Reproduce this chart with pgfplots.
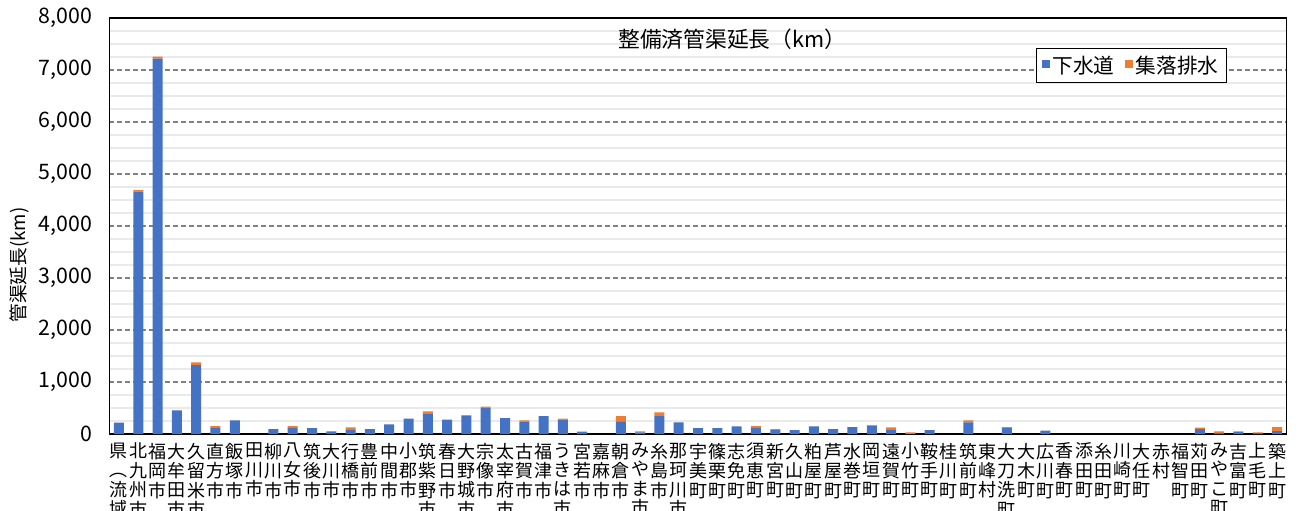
\documentclass[border=0pt]{standalone}
\usepackage{fontspec}
\setmainfont{Noto Sans CJK JP}
\usepackage{pgfplots}
\usepackage{pgfplotstable}
\pgfplotsset{compat=1.18}

\definecolor{sewer}{HTML}{4472C4}
\definecolor{rural}{HTML}{ED7D31}
\definecolor{majorgrid}{HTML}{7F7F7F}
\definecolor{minorgrid}{HTML}{EAEAEA}
\definecolor{baseline}{HTML}{8C8C8C}

% 整備済管渠延長 (km): 下水道 / 集落排水
\pgfplotstableread{
idx sewer rural
0 218 0
1 4660 30
2 7217 40
3 455 0
4 1327 51
5 128 26
6 263 0
7 0 0
8 96 0
9 128 26
10 115 0
11 51 0
12 90 38
13 96 0
14 186 0
15 295 0
16 385 51
17 276 0
18 359 0
19 506 20
20 308 0
21 231 32
22 346 0
23 276 19
24 45 0
25 0 0
26 244 102
27 32 19
28 346 71
29 224 0
30 115 0
31 115 0
32 147 0
33 128 26
34 77 19
35 77 0
36 147 0
37 96 0
38 135 0
39 167 0
40 90 38
41 5 25
42 77 0
43 0 0
44 224 39
45 0 0
46 115 20
47 0 0
48 64 0
49 0 0
50 0 0
51 0 0
52 0 0
53 0 0
54 0 0
55 0 0
56 93 29
57 19 32
58 45 6
59 8 24
60 58 77
}\lengthdata

\begin{document}
\begin{tikzpicture}
\begin{axis}[
  name=ax,
  scale only axis,
  width=883pt, height=312pt,
  ybar stacked,
  bar width=7.5pt,
  xmin=-0.5, xmax=60.5,
  ymin=0, ymax=8000,
  ytick={0,1000,...,8000},
  minor y tick num=3,
  xtick={0,...,60},
  xticklabels={
    {県\\︵\\流\\域\\︶},{北\\九\\州\\市},{福\\岡\\市},{大\\牟\\田\\市},{久\\留\\米\\市},
    {直\\方\\市},{飯\\塚\\市},{田\\川\\市},{柳\\川\\市},{八\\女\\市},
    {筑\\後\\市},{大\\川\\市},{行\\橋\\市},{豊\\前\\市},{中\\間\\市},
    {小\\郡\\市},{筑\\紫\\野\\市},{春\\日\\市},{大\\野\\城\\市},{宗\\像\\市},
    {太\\宰\\府\\市},{古\\賀\\市},{福\\津\\市},{う\\き\\は\\市},{宮\\若\\市},
    {嘉\\麻\\市},{朝\\倉\\市},{み\\や\\ま\\市},{糸\\島\\市},{那\\珂\\川\\市},
    {宇\\美\\町},{篠\\栗\\町},{志\\免\\町},{須\\恵\\町},{新\\宮\\町},
    {久\\山\\町},{粕\\屋\\町},{芦\\屋\\町},{水\\巻\\町},{岡\\垣\\町},
    {遠\\賀\\町},{小\\竹\\町},{鞍\\手\\町},{桂\\川\\町},{筑\\前\\町},
    {東\\峰\\村},{大\\刀\\洗\\町},{大\\木\\町},{広\\川\\町},{香\\春\\町},
    {添\\田\\町},{糸\\田\\町},{川\\崎\\町},{大\\任\\町},{赤\\村},
    {福\\智\\町},{苅\\田\\町},{み\\や\\こ\\町},{吉\\富\\町},{上\\毛\\町},
    {築\\上\\町}},
  xticklabel style={align=center, anchor=north, inner sep=0pt, yshift=-6.5pt,
    font=\fontsize{13.5pt}{14.6pt}\selectfont},
  yticklabel style={anchor=east, inner sep=0pt, xshift=-12.75pt,
    font=\fontsize{16pt}{18pt}\selectfont},
  /pgf/number format/.cd, 1000 sep={,}, assume math mode=true,
  /pgfplots/.cd,
  scaled y ticks=false,
  tick style={draw=none},
  major tick length=0pt, minor tick length=0pt,
  ymajorgrids, yminorgrids,
  major grid style={majorgrid, line width=1pt, dash pattern=on 3.75pt off 2.25pt},
  minor grid style={minorgrid, line width=0.8pt},
  axis line style={black, line width=0.8pt},
  title={整備済管渠延長（km）},
  title style={at={(rel axis cs:0.529,0.930)}, anchor=center, yshift=0pt,
    font=\fontsize{16.3pt}{19pt}\selectfont},
  ylabel={管渠延長(km)},
  ylabel style={at={(rel axis cs:-0.0764,0.406)}, anchor=center,
    font=\fontsize{14pt}{16pt}\selectfont},
  legend columns=2,
  legend style={at={(rel axis cs:0.787,0.928)}, anchor=north west,
    draw=black, line width=0.8pt, fill=white,
    font=\fontsize{15.5pt}{18pt}\selectfont,
    inner xsep=4pt, inner ysep=3.5pt,
    /tikz/every even column/.append style={column sep=6pt}},
  legend cell align=left,
]
\addplot[fill=sewer, draw=none,
  legend image code/.code={\fill[sewer] (0pt,-2pt) rectangle (6pt,4pt);}]
  table[x=idx, y=sewer] {\lengthdata};
\addlegendentry{下水道}
\addplot[fill=rural, draw=none,
  legend image code/.code={\fill[rural] (0pt,-2pt) rectangle (6pt,4pt);}]
  table[x=idx, y=rural] {\lengthdata};
\addlegendentry{集落排水}
% grey base line along the category axis
\draw[baseline, line width=1.5pt] (rel axis cs:0,0) -- (rel axis cs:1,0);
\end{axis}
\pgfresetboundingbox
\useasboundingbox ([shift={(-82pt,-57pt)}]ax.south west)
  rectangle ([shift={(10.7pt,13.5pt)}]ax.north east);
\end{tikzpicture}
\end{document}
